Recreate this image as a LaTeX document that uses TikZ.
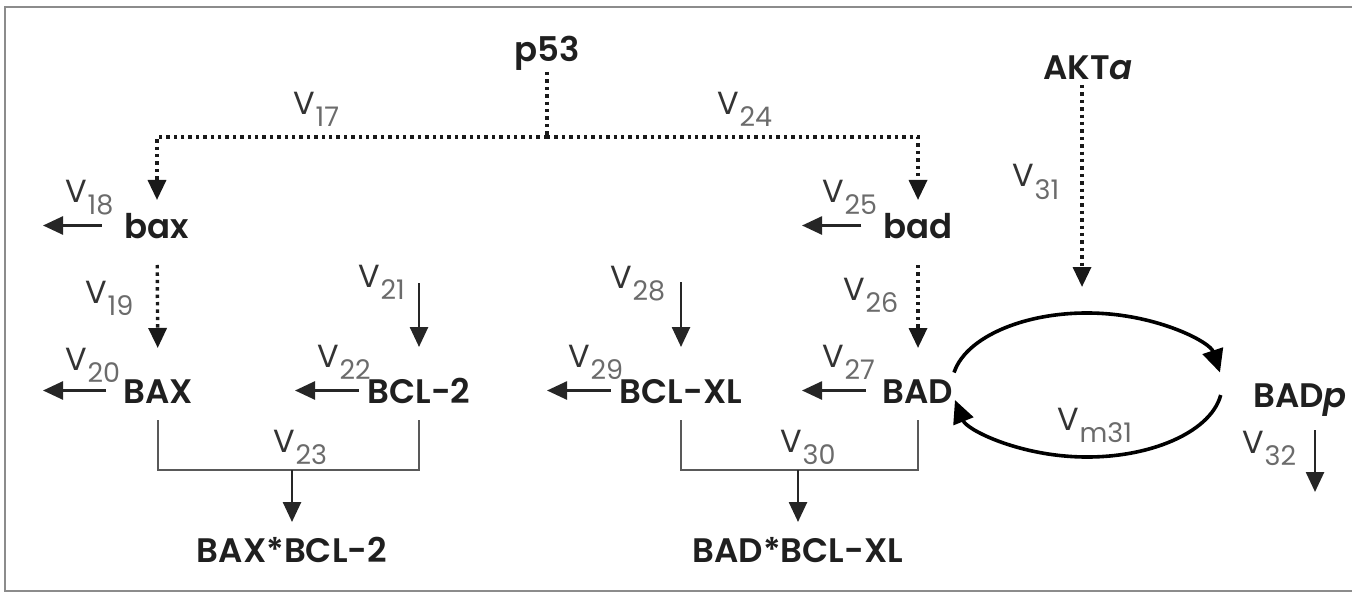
\documentclass[tikz,border=0pt]{standalone}
\usepackage{fontspec}
\setmainfont{Poppins}[BoldFont={Poppins SemiBold}]
\usetikzlibrary{arrows.meta,calc}
\newcommand\vlab[1]{V\kern0.3pt\raisebox{-6pt}{\fontsize{13.5}{15}\selectfont\color{black!58}#1}}
\begin{document}
\begin{tikzpicture}[x=0.5pt,y=-0.5pt,
  lab/.style={inner sep=0pt, outer sep=0pt, anchor=base, text height=12.5pt, text depth=0pt,
    font=\fontsize{17}{20}\selectfont\bfseries, text=black!88},
  vl/.style={inner sep=0pt, anchor=base west, font=\fontsize{16}{18}\selectfont, text=black!80},
  tip/.style={-{Triangle[width=9pt,length=10pt]}},
  dots/.style={line width=1.7pt, dash pattern=on 1.7pt off 2pt, black!90},
  dotarrow/.style={dots, tip},
  solidarrow/.style={line width=1.3pt, black!85, tip},
  bracket/.style={line width=1.1pt, black!65},
  cycle/.style={line width=1.8pt, black, -{Triangle[width=10.5pt,length=11.5pt]}},
  frame/.style={line width=1.4pt, black!45}
]
\useasboundingbox (0,0) rectangle (1352,593);
\draw[frame] (1352,7) -- (5,7) -- (5,591) -- (1352,591);

% species
\node[lab] (p53) at (547,62) {p53};
\node[lab] (AKTa) at (1088,80) {AKT\textit{a}};
\node[lab] (bax) at (157,238) {bax};
\node[lab] (bad) at (918,238) {bad};
\node[lab] (BAX) at (158,403) {BAX};
\node[lab] (BCL2) at (419,403) {BCL-2};
\node[lab] (BCLXL) at (681,403) {BCL-XL};
\node[lab] (BAD) at (918,403) {BAD};
\node[lab] (BADp) at (1300,407) {BAD\textit{p}};
\node[lab] (cBAX) at (292,562) {BAX*BCL-2};
\node[lab] (cBAD) at (798,562) {BAD*BCL-XL};

% junctions and free ends
\coordinate (j53) at (547,137);
\coordinate (j23) at (292,470);
\coordinate (j30) at (798,470);
\coordinate (e18) at (43,0);
\coordinate (e20) at (43,0);
\coordinate (e22) at (295,0);
\coordinate (e29) at (547,0);
\coordinate (e25) at (802,0);
\coordinate (e27) at (802,0);
\coordinate (s21) at (419,283);
\coordinate (s28) at (681,282);
\coordinate (e31) at (1082,287);
\coordinate (e32) at (1315,492);
\coordinate (ec) at (1087,385);

% p53 branches
\draw[dots, shorten <=5pt] (p53) -- (j53);
\draw[dotarrow, shorten >=6.5pt] (j53) -| (bax);
\draw[dotarrow, shorten >=6.5pt] (j53) -| (bad);
\draw[dotarrow, shorten <=13.5pt, shorten >=15pt] (bax) -- (BAX);
\draw[dotarrow, shorten <=13.5pt, shorten >=15pt] (bad) -- (BAD);

% degradation / outflow stubs
\draw[solidarrow, shorten <=11.5pt] (bax) -- (bax -| e18);
\draw[solidarrow, shorten <=8.5pt] (BAX) -- (BAX -| e20);
\draw[solidarrow, shorten <=4.5pt] (BCL2) -- (BCL2 -| e22);
\draw[solidarrow, shorten <=4.5pt] (BCLXL) -- (BCLXL -| e29);
\draw[solidarrow, shorten <=11pt] (bad) -- (bad -| e25);
\draw[solidarrow, shorten <=8.5pt] (BAD) -- (BAD -| e27);
\draw[solidarrow, shorten >=15.5pt] (s21) -- (BCL2);
\draw[solidarrow, shorten >=15.5pt] (s28) -- (BCLXL);
\draw[solidarrow, shorten <=11.5pt] (BADp.south -| e32) -- (e32);

% complex formation
\draw[bracket, shorten <=8.5pt, shorten >=8.5pt] (BAX) |- (j23) -| (BCL2);
\draw[bracket, shorten <=8.5pt, shorten >=8.5pt] (BCLXL) |- (j30) -| (BAD);
\draw[solidarrow, shorten >=7.5pt] (j23) -- (cBAX);
\draw[solidarrow, shorten >=7.5pt] (j30) -- (cBAD);

% AKT phosphorylation cycle
\draw[dotarrow, shorten <=2.5pt] (AKTa.south -| e31) -- (e31);
\draw[cycle] ($(ec)+(190:135 and 72)$) arc[start angle=190, end angle=350, x radius=135, y radius=72];
\draw[cycle] ($(ec)+(8:135 and 72)$) arc[start angle=8, end angle=168, x radius=135, y radius=72];

% rate labels
\node[vl] (v17) at (293,115) {\vlab{17}};
\node[vl] (v24) at (717,115) {\vlab{24}};
\node[vl] (v18) at (65,202) {\vlab{18}};
\node[vl] (v25) at (822,202) {\vlab{25}};
\node[vl] (v19) at (85,303) {\vlab{19}};
\node[vl] (v21) at (358,287) {\vlab{21}};
\node[vl] (v20) at (65,370) {\vlab{20}};
\node[vl] (v22) at (317,367) {\vlab{22}};
\node[vl] (v23) at (273,452) {\vlab{23}};
\node[vl] (v28) at (610,288) {\vlab{28}};
\node[vl] (v26) at (843,300) {\vlab{26}};
\node[vl] (v29) at (568,367) {\vlab{29}};
\node[vl] (v27) at (822,367) {\vlab{27}};
\node[vl] (v30) at (780,452) {\vlab{30}};
\node[vl] (v31) at (1012,187) {\vlab{31}};
\node[vl] (vm31) at (1057,430) {\vlab{m31}};
\node[vl] (v32) at (1242,453) {\vlab{32}};
\end{tikzpicture}
\end{document}
